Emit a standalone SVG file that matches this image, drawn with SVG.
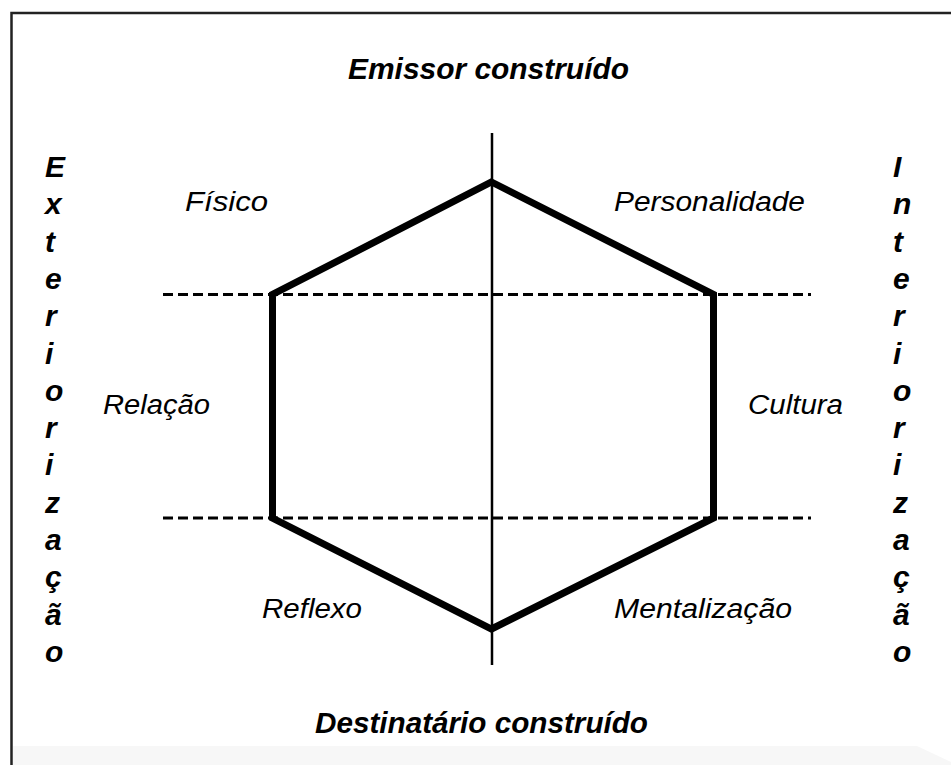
<svg xmlns="http://www.w3.org/2000/svg" width="951" height="765" viewBox="0 0 951 765">
<style>
.title{font-family:"Liberation Sans",Arial,sans-serif;font-weight:bold;font-style:italic;font-size:30px;fill:#000}
.vert{font-family:"Liberation Sans",Arial,sans-serif;font-weight:bold;font-style:italic;font-size:30px;fill:#000}
.lbl{font-family:"Liberation Sans",Arial,sans-serif;font-style:italic;font-size:27px;fill:#000}
.dash{stroke:#000;stroke-width:3;stroke-dasharray:10 5;fill:none}
.hex{stroke:#000;stroke-width:7;fill:none;stroke-linejoin:miter}
</style>
<rect width="951" height="765" fill="#fff"/>
<polygon points="13,746 917,746 951,762 951,765 13,765" fill="#f7f7f7"/>
<g id="frame">
<path d="M11.5,765 V13 H951" fill="none" stroke="#222" stroke-width="2.5"/>
</g>
<g id="connectors">
<line class="dash" x1="163" y1="294.5" x2="811" y2="294.5"/>
<line class="dash" x1="163" y1="518" x2="811" y2="518"/>
<line x1="492" y1="133" x2="492" y2="665" stroke="#000" stroke-width="2.5"/>
</g>
<g id="hexagon">
<polygon class="hex" points="491.5,182 713.5,294.5 713.5,518 491.5,629 272.5,518 272.5,294.5"/>
</g>
<g id="emissor"><text class="title" x="348" y="79" textLength="281" lengthAdjust="spacingAndGlyphs">Emissor construído</text></g>
<g id="destinatario"><text class="title" x="315" y="733" textLength="333" lengthAdjust="spacingAndGlyphs">Destinatário construído</text></g>
<g id="fisico"><text class="lbl" x="185" y="211" textLength="83" lengthAdjust="spacingAndGlyphs">Físico</text></g>
<g id="personalidade"><text class="lbl" x="614" y="211" textLength="191" lengthAdjust="spacingAndGlyphs">Personalidade</text></g>
<g id="relacao"><text class="lbl" x="103" y="414" textLength="107" lengthAdjust="spacingAndGlyphs">Relação</text></g>
<g id="cultura"><text class="lbl" x="748" y="414" textLength="95" lengthAdjust="spacingAndGlyphs">Cultura</text></g>
<g id="reflexo"><text class="lbl" x="262" y="618" textLength="100" lengthAdjust="spacingAndGlyphs">Reflexo</text></g>
<g id="mentalizacao"><text class="lbl" x="614" y="618" textLength="178" lengthAdjust="spacingAndGlyphs">Mentalização</text></g>
<g id="exteriorizacao">
<text class="vert"><tspan x="45" y="177">E</tspan><tspan x="45" y="214.3">x</tspan><tspan x="45" y="251.6">t</tspan><tspan x="45" y="288.9">e</tspan><tspan x="45" y="326.2">r</tspan><tspan x="45" y="363.5">i</tspan><tspan x="45" y="400.8">o</tspan><tspan x="45" y="438.1">r</tspan><tspan x="45" y="475.4">i</tspan><tspan x="45" y="512.7">z</tspan><tspan x="45" y="550">a</tspan><tspan x="45" y="587.3">ç</tspan><tspan x="45" y="624.6">ã</tspan><tspan x="45" y="661.9">o</tspan></text>
</g>
<g id="interiorizacao">
<text class="vert"><tspan x="893" y="177">I</tspan><tspan x="893" y="214.3">n</tspan><tspan x="893" y="251.6">t</tspan><tspan x="893" y="288.9">e</tspan><tspan x="893" y="326.2">r</tspan><tspan x="893" y="363.5">i</tspan><tspan x="893" y="400.8">o</tspan><tspan x="893" y="438.1">r</tspan><tspan x="893" y="475.4">i</tspan><tspan x="893" y="512.7">z</tspan><tspan x="893" y="550">a</tspan><tspan x="893" y="587.3">ç</tspan><tspan x="893" y="624.6">ã</tspan><tspan x="893" y="661.9">o</tspan></text>
</g>
</svg>
